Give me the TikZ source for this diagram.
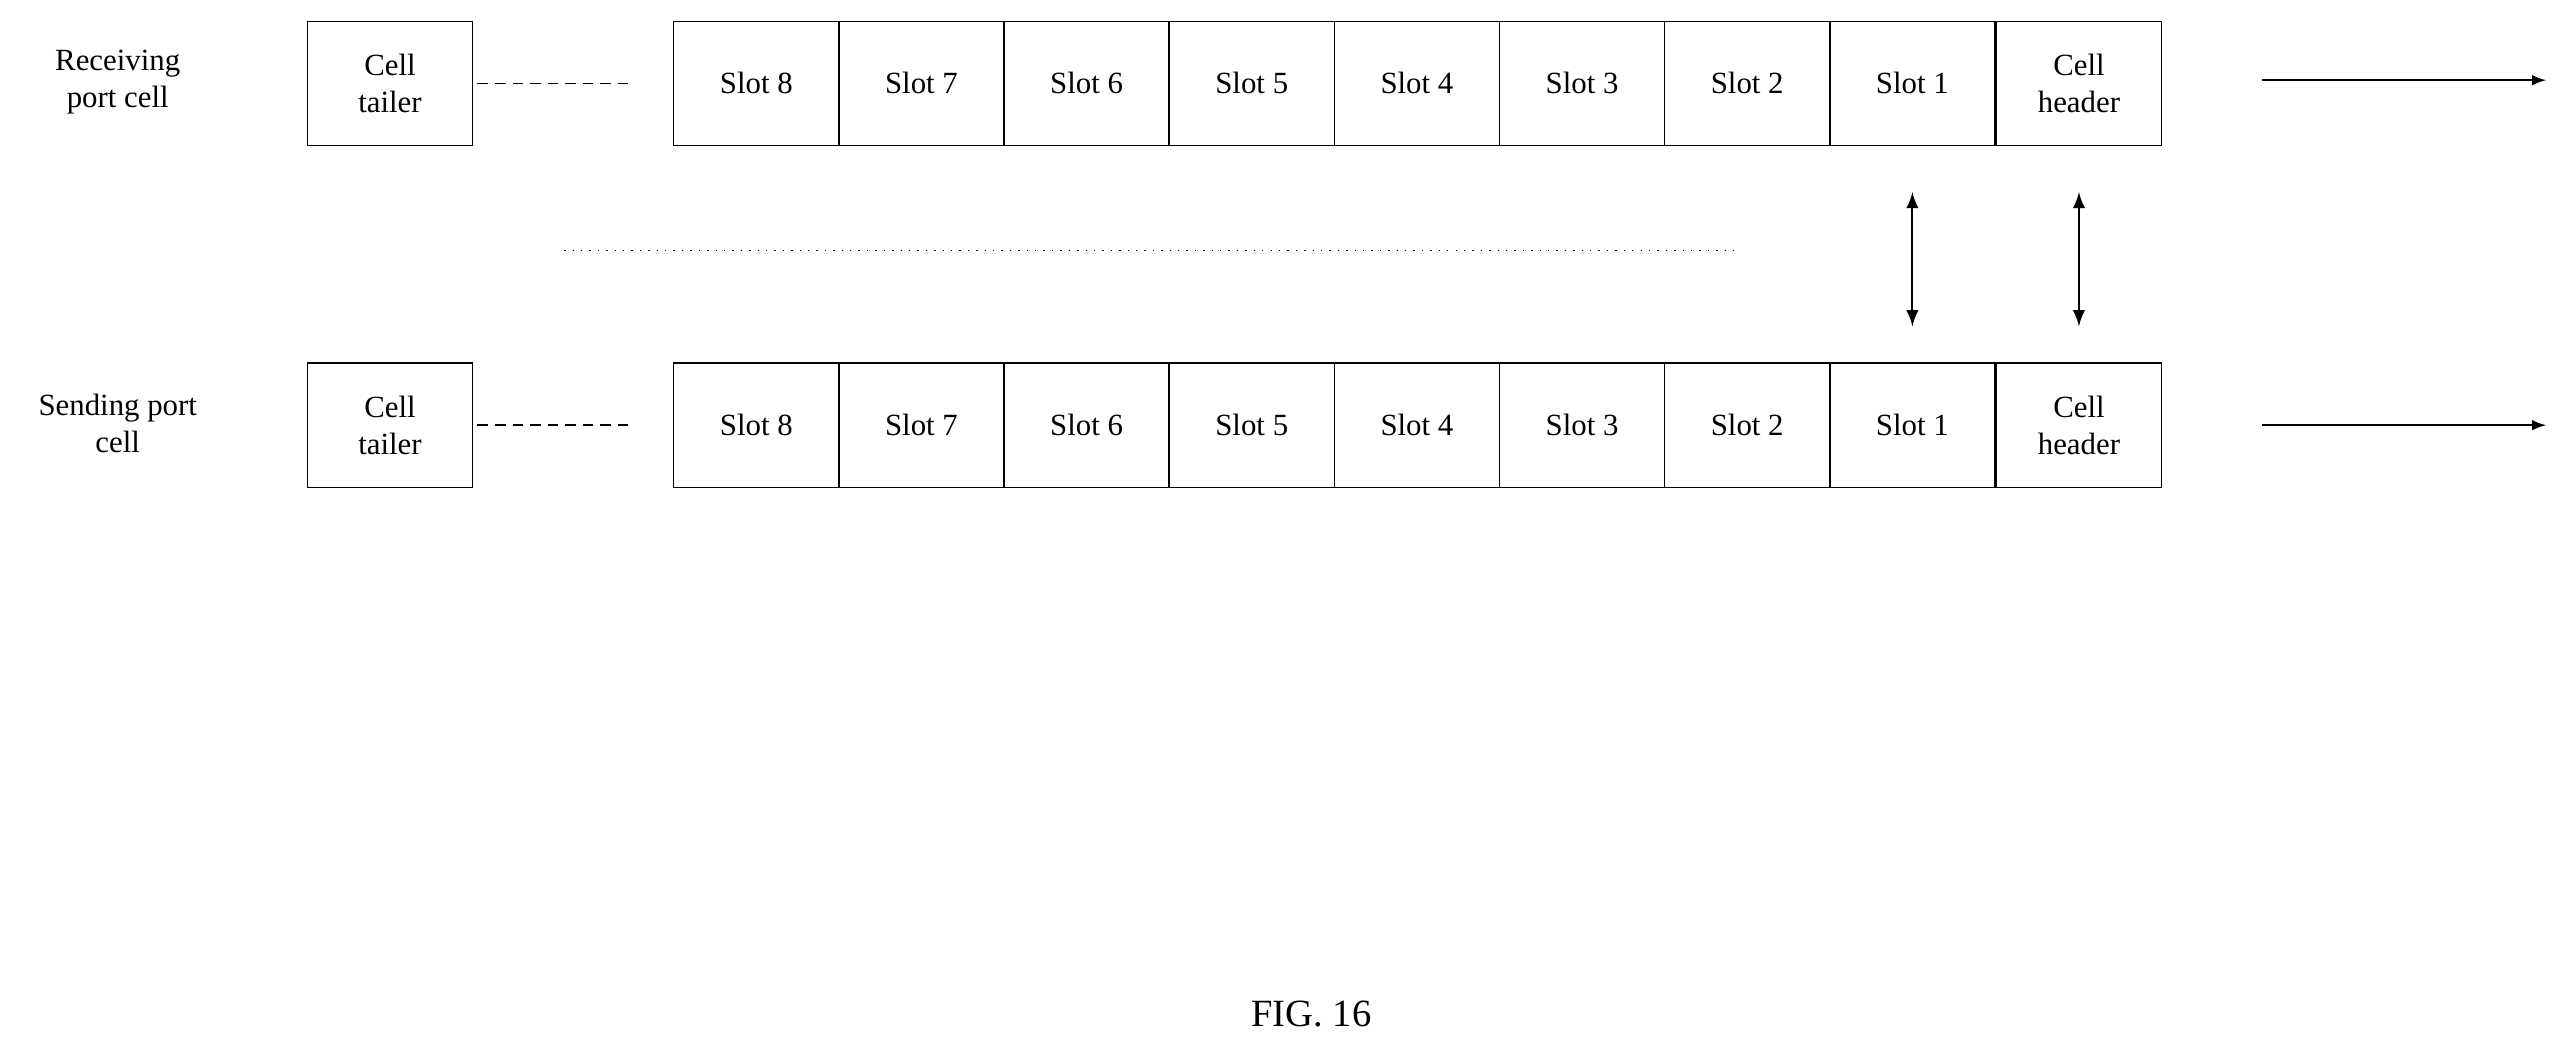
\documentclass[tikz,border=0pt]{standalone}
\usepackage{fontspec}
\setmainfont{Liberation Serif}
\usetikzlibrary{positioning}
\tikzset{
  cellbox/.style={draw, minimum width=101*0.0164cm, minimum height=76*0.0164cm, inner sep=0pt, align=center, font=\fontsize{8.8}{10.5}\selectfont},
  rowlabel/.style={align=center, font=\fontsize{8.8}{10.5}\selectfont},
}
\begin{document}
\begin{tikzpicture}[x=0.0164cm, y=-0.0164cm]
  \useasboundingbox (0,0) rectangle (1568,642);
  % receiving row
  \node[rowlabel] (rlab) at (72,50) {Receiving\\port cell};
  \node[cellbox] (rt) at (238.5,51) {Cell\\tailer};
  \foreach \i in {8,...,1} {
    \node[cellbox] (r\i) at ({412+50.5+(8-\i)*101},51) {Slot \i};
  }
  \node[cellbox, right=0pt of r1] (rh) {Cell\\header};
  \coordinate (rd1) at (292,51);
  \coordinate (rd2) at (387,51);
  \draw[dash pattern=on 3pt off 2pt] (rd1) -- (rd2);
  \coordinate (ra1) at (1383,49);
  \coordinate (ra2) at (1557,49);
  \draw[-latex] (ra1) -- (ra2);
  % sending row
  \node[rowlabel] (slab) at (72,259) {Sending port\\cell};
  \node[cellbox] (st) at (238.5,260) {Cell\\tailer};
  \foreach \i in {8,...,1} {
    \node[cellbox] (s\i) at ({412+50.5+(8-\i)*101},260) {Slot \i};
  }
  \node[cellbox, right=0pt of s1] (sh) {Cell\\header};
  \coordinate (sd1) at (292,260);
  \coordinate (sd2) at (387,260);
  \draw[dash pattern=on 3pt off 2pt] (sd1) -- (sd2);
  \coordinate (sa1) at (1383,260);
  \coordinate (sa2) at (1557,260);
  \draw[-latex] (sa1) -- (sa2);
  % between rows
  \coordinate (m1) at (345,153);
  \coordinate (m2) at (1063,153);
  \draw[dotted] (m1) -- (m2);
  \draw[semithick, latex-latex] ([yshift=-28*0.0164cm]r1.south) -- ([yshift=22*0.0164cm]s1.north);
  \draw[semithick, latex-latex] ([yshift=-28*0.0164cm]rh.south) -- ([yshift=22*0.0164cm]sh.north);
  \node[font=\fontsize{11}{13}\selectfont] (fig) at (802,620) {FIG. 16};
\end{tikzpicture}
\end{document}
